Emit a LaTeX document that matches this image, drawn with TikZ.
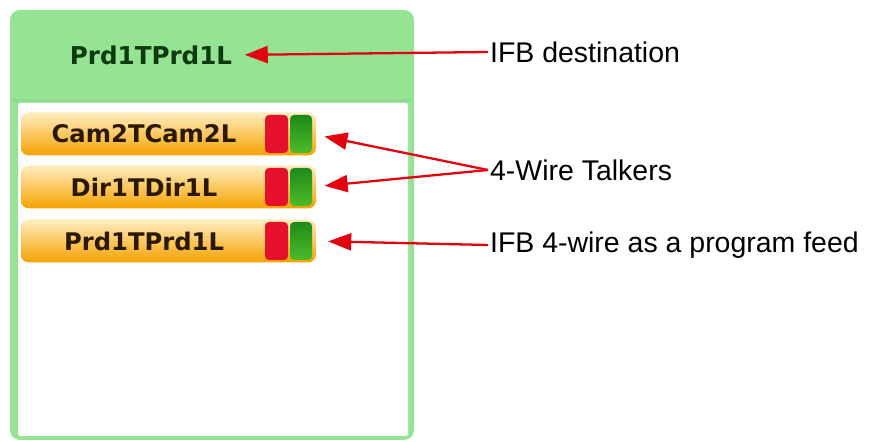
\documentclass[tikz,border=0pt]{standalone}
\usepackage{fontspec}
\setmainfont{Liberation Sans}
\newfontfamily\btnfont{DejaVu Sans}
\usetikzlibrary{positioning, arrows.meta}
\definecolor{panelgreen}{HTML}{94E494}
\definecolor{headink}{HTML}{0E3A10}
\definecolor{btnink}{HTML}{2A1800}
\definecolor{btntop}{HTML}{FFEDC0}
\definecolor{btnmid}{HTML}{FFC845}
\definecolor{btnbot}{HTML}{F5A200}
\definecolor{ledred}{HTML}{E5102C}
\definecolor{ledgreen}{HTML}{1E8A1A}
\definecolor{ledlime}{HTML}{4DBB2A}
\definecolor{callred}{HTML}{E3000F}

\tikzset{
  button/.style={rectangle, rounded corners=0.16cm, minimum width=5.9cm, minimum height=0.86cm,
                 top color=btntop, middle color=btnmid, bottom color=btnbot},
  btntext/.style={font=\btnfont\bfseries\fontsize{13.8}{16}\selectfont, text=btnink, inner sep=1pt},
  ledR/.style={rectangle, rounded corners=0.08cm, minimum width=0.46cm, minimum height=0.76cm, fill=ledred},
  ledG/.style={rectangle, rounded corners=0.08cm, minimum width=0.44cm, minimum height=0.76cm,
               top color=ledgreen, bottom color=ledlime},
  callout/.style={-{Triangle[length=0.46cm,width=0.34cm]}, callred, line width=1.3pt},
  note/.style={anchor=west, inner sep=1pt, font=\fontsize{16.2}{19}\selectfont}
}

\begin{document}
\begin{tikzpicture}
  \useasboundingbox (0,0) rectangle (17.5,8.84);

  % Panel
  \fill[panelgreen, rounded corners=0.2cm] (0.2,0.04) rectangle (8.28,8.64);
  \fill[panelgreen!96!black] (0.26,6.8) rectangle (8.22,6.86);
  \fill[white, rounded corners=0.05cm] (0.36,0.12) rectangle (8.16,6.78);
  \node[btntext, text=headink, font=\btnfont\bfseries\fontsize{14}{16}\selectfont] (dest) at (3.02,7.74) {Prd1TPrd1L};

  % Talker buttons
  \node[button] (cambtn) at (3.37,6.16) {};
  \node[btntext] (cam) at (2.88,6.16) {Cam2TCam2L};
  \node[ledR] (camred) at (5.53,6.16) {};
  \node[ledG] (camgreen) at (6.02,6.16) {};

  \node[button] (dirbtn) at (3.37,5.10) {};
  \node[btntext] (dir) at (2.88,5.10) {Dir1TDir1L};
  \node[ledR] (dirred) at (5.53,5.10) {};
  \node[ledG] (dirgreen) at (6.02,5.10) {};

  \node[button] (prdbtn) at (3.37,4.02) {};
  \node[btntext] (prd) at (2.88,4.02) {Prd1TPrd1L};
  \node[ledR] (prdred) at (5.53,4.02) {};
  \node[ledG] (prdgreen) at (6.02,4.02) {};

  % Callouts
  \node[note] (destnote) at (9.76,7.8) {IFB destination};
  \node[note] (talknote) at (9.76,5.44) {4-Wire Talkers};
  \node[note] (feednote) at (9.76,3.94) {IFB 4-wire as a program feed};

  \draw[callout, shorten >=6pt] (destnote.west) -- (dest.east);
  \draw[callout, shorten >=7pt] (talknote.west) -- (camgreen.east);
  \draw[callout, shorten >=7pt] (talknote.west) -- (dirgreen.east);
  \draw[callout, shorten >=9pt] (feednote.west) -- (prdgreen.east);
\end{tikzpicture}
\end{document}
